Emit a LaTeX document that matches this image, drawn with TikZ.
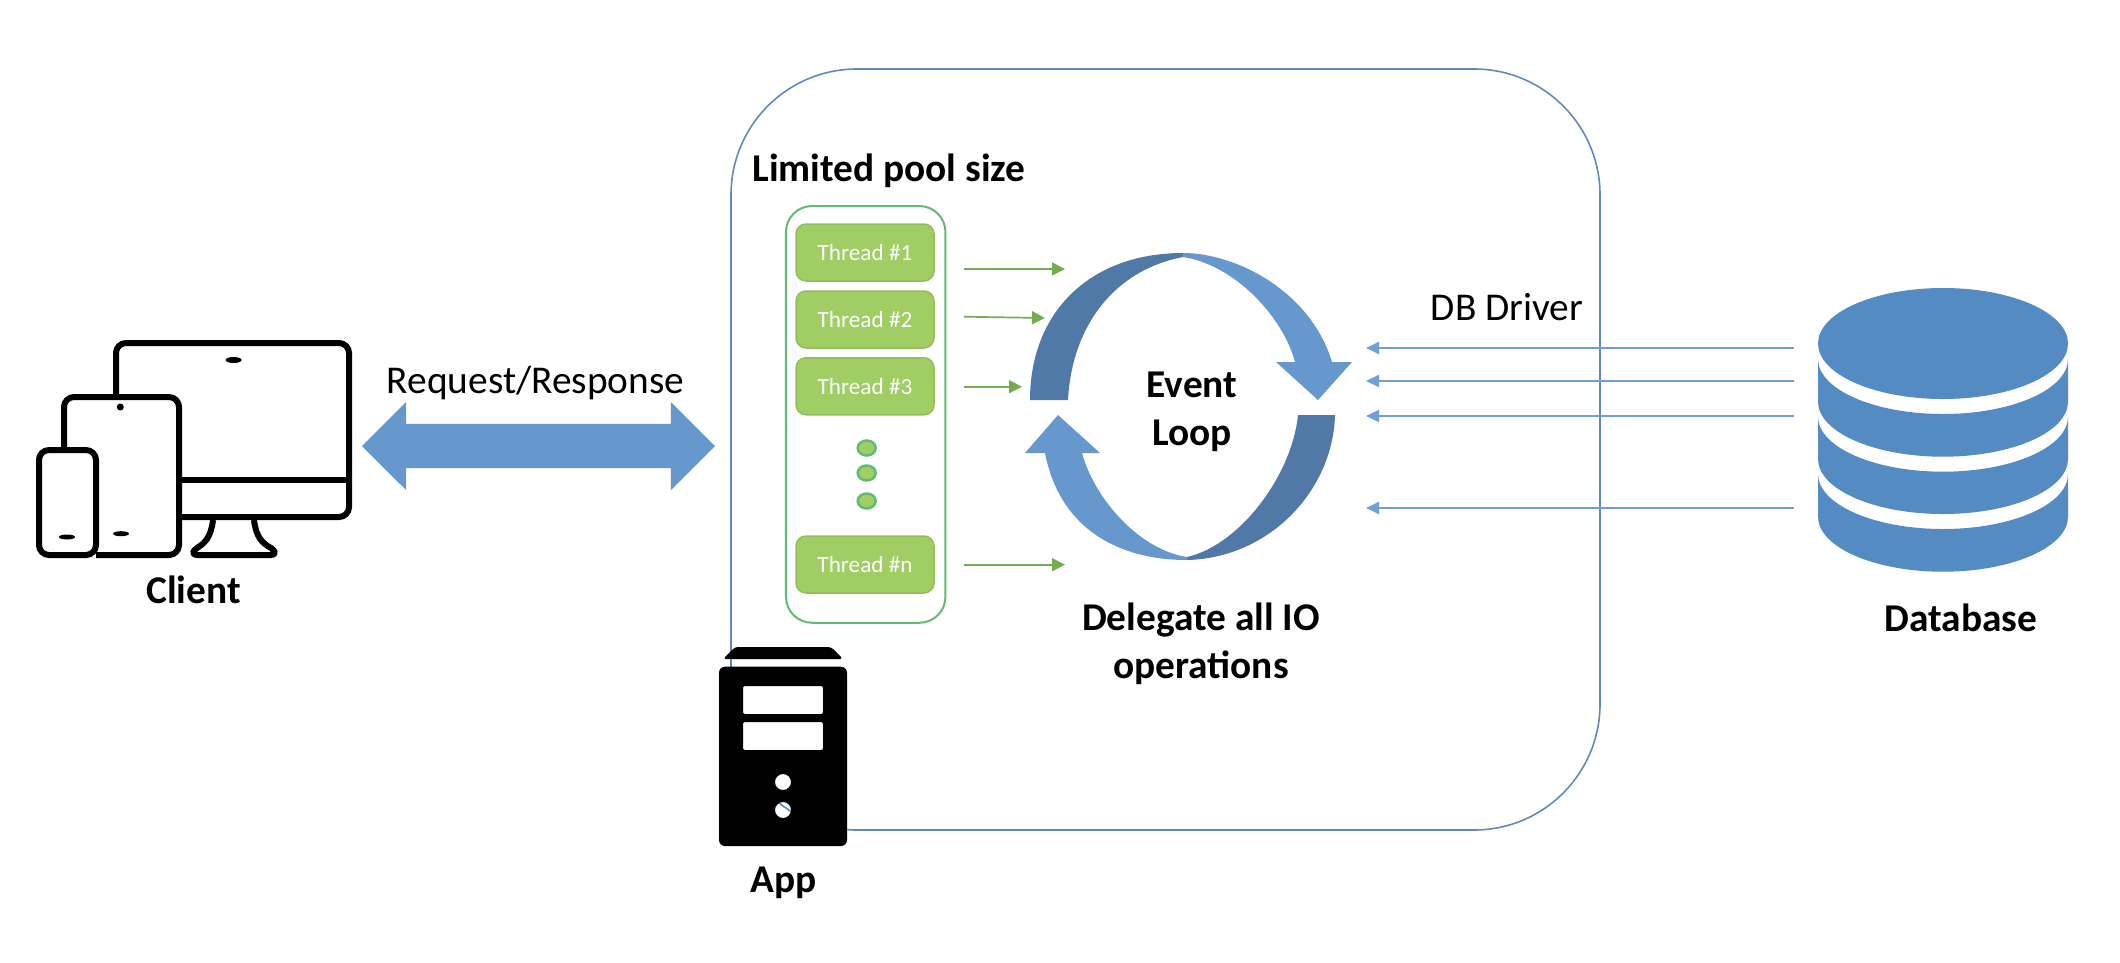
\documentclass[tikz,border=0pt]{standalone}
\usepackage{fontspec}
\setmainfont{Carlito}
\usetikzlibrary{arrows.meta,shapes.arrows}
\definecolor{boxblue}{HTML}{6389BA}
\definecolor{looplight}{HTML}{6698CE}
\definecolor{loopdark}{HTML}{5179A8}
\definecolor{dbblue}{HTML}{558BC3}
\definecolor{linkblue}{HTML}{6F9FD6}
\definecolor{poolgreen}{HTML}{5EBC74}
\definecolor{threadgreen}{HTML}{A1CE64}
\definecolor{threadedge}{HTML}{90BE5A}
\definecolor{linkgreen}{HTML}{74AD50}
\tikzset{
	plainlabel/.style={anchor=base,font=\fontsize{11.2pt}{13.7pt}\selectfont},
	boldlabel/.style={anchor=base,font=\fontsize{11.2pt}{13.7pt}\selectfont\bfseries},
	threadbox/.style={draw=threadedge,fill=threadgreen,line width=0.15mm,rounded corners=1mm,
		minimum width=13.8mm,minimum height=5.7mm,inner sep=0pt,text=white,
		font=\fontsize{6.6pt}{8pt}\selectfont},
	greenarrow/.style={-{Triangle[length=1.3mm,width=1.3mm]},draw=linkgreen,line width=0.17mm},
	bluearrow/.style={-{Triangle[length=1.3mm,width=1.2mm]},draw=linkblue,line width=0.2mm},
	device/.style={draw=black,line width=0.6mm,rounded corners=1mm}
}
\begin{document}
\begin{tikzpicture}[x=0.1mm,y=0.1mm]
	\useasboundingbox (0,0) rectangle (2120,962);
	% the App frame
	\draw[boxblue,line width=0.16mm,rounded corners=12.6mm] (731,132) rectangle (1600,893);
	% the Client devices
	\draw[device] (116,565) -- (116,619) -- (349,619) -- (349,445) -- (179,445);
	\draw[device,rounded corners=0pt] (179,482) -- (349,482);
	\draw[device] (64,512) -- (64,565) -- (179,565) -- (179,407) -- (96,407);
	\draw[device] (39,407) rectangle (96,512);
	\draw[device,rounded corners=0pt,line join=round] (213,442) .. controls (211,425) and (205,419) .. (197,414)
		.. controls (192,411) and (192,407) .. (197,407) -- (271,407)
		.. controls (276,407) and (276,411) .. (271,414)
		.. controls (262,419) and (256,425) .. (254,442);
	\fill (233.6,602) ellipse [x radius=0.8mm,y radius=0.3mm];
	\fill (120.3,555) ellipse [x radius=0.35mm,y radius=0.35mm];
	\fill (121,428.3) ellipse [x radius=0.8mm,y radius=0.25mm];
	\fill (67,425) ellipse [x radius=0.8mm,y radius=0.25mm];
	\node[boldlabel] (client) at (193.5,359) {Client};
	% Request/Response
	\node[double arrow,fill=looplight,inner xsep=0pt,inner ysep=2.15mm,minimum height=35.3mm,
		double arrow head extend=2.2mm,double arrow tip angle=90] (reqresp) at (538.5,516) {};
	\node[plainlabel] (reqlabel) at (535.6,569) {Request/Response};
	% the App icon, holes left open
	\fill[rounded corners=0.3mm] (723,303) -- (735,315) -- (831,315) -- (843,303) -- cycle;
	\fill[even odd rule,rounded corners=0.6mm] (719,116) rectangle (847,295.3)
		[rounded corners=0.2mm] (743,212) rectangle (823,240) (743,248) rectangle (823,276)
		[sharp corners] (783,180) circle (0.8mm) (783,152) circle (0.8mm);
	\node[boldlabel] (app) at (784,70) {App};
	% the thread pool
	\node[boldlabel] (poollabel) at (889,781) {Limited pool size};
	\node[draw=poolgreen,line width=0.2mm,rounded corners=2.6mm,minimum width=15.95mm,minimum height=41.67mm,
		inner sep=0pt] (pool) at (865.7,547.6) {};
	\node[threadbox] (t1) at (865,709.5) {Thread \#1};
	\node[threadbox] (t2) at (865,642.5) {Thread \#2};
	\node[threadbox] (t3) at (865,575.7) {Thread \#3};
	\node[threadbox] (tn) at (865,397.5) {Thread \#n};
	\foreach \y in {514,489,461}
		\filldraw[fill=threadgreen,draw=poolgreen,line width=0.25mm] (866.7,\y) ellipse [x radius=0.9mm,y radius=0.75mm];
	% thread links
	\coordinate (g1a) at (964,693);
	\coordinate (g1b) at (1065,693);
	\coordinate (g2a) at (964,645.3);
	\coordinate (g2b) at (1045,644);
	\coordinate (g3a) at (964,575.3);
	\coordinate (g3b) at (1022,575.3);
	\coordinate (gna) at (964,397.3);
	\coordinate (gnb) at (1065,397.3);
	\draw[greenarrow] (g1a) -- (g1b);
	\draw[greenarrow] (g2a) -- (g2b);
	\draw[greenarrow] (g3a) -- (g3b);
	\draw[greenarrow] (gna) -- (gnb);
	% the Event Loop
	\fill[loopdark] (1030,562) .. controls (1030,650) and (1090,709) .. (1183,709)
		-- (1183,705) .. controls (1115,692) and (1072,637) .. (1068,562) -- cycle;
	\fill[looplight] (1183,709) .. controls (1235,709) and (1310,672) .. (1332,600)
		-- (1352,600) -- (1318,562) -- (1276,600) -- (1295,600)
		.. controls (1283,645) and (1235,697) .. (1183,705) -- cycle;
	\fill[loopdark] (1298,547) -- (1335,547) .. controls (1333,472) and (1270,404) .. (1187,402)
		-- (1187,405) .. controls (1240,417) and (1292,487) .. (1298,547) -- cycle;
	\fill[looplight] (1187,402) .. controls (1120,402) and (1060,432) .. (1045,509)
		-- (1025,509) -- (1058,547) -- (1100,509) -- (1082,509)
		.. controls (1095,462) and (1140,412) .. (1187,405) -- cycle;
	\node[boldlabel,anchor=center,align=center] (loop) at (1192,550) {Event\\Loop};
	\node[boldlabel,anchor=center,align=center] (delegate) at (1201,318) {Delegate all IO\\operations};
	% the Database
	\fill[dbblue] (1943,618.5) ellipse [x radius=12.5mm,y radius=5.55mm];
	\foreach \ya/\yb in {603/560.3,545.3/503,488/445.3}
		\fill[dbblue] (1818,\ya) arc [start angle=180,end angle=360,x radius=12.5mm,y radius=5.5mm]
			-- (2068,\yb) arc [start angle=0,end angle=-180,x radius=12.5mm,y radius=5.5mm] -- cycle;
	\node[boldlabel] (database) at (1961,331) {Database};
	% DB Driver links
	\node[plainlabel] (driver) at (1507,642) {DB Driver};
	\foreach \n/\y in {1/614,2/581,3/546,4/454} {
		\coordinate (d\n a) at (1794,\y);
		\coordinate (d\n b) at (1366,\y);
		\draw[bluearrow] (d\n a) -- (d\n b);
	}
\end{tikzpicture}
\end{document}
